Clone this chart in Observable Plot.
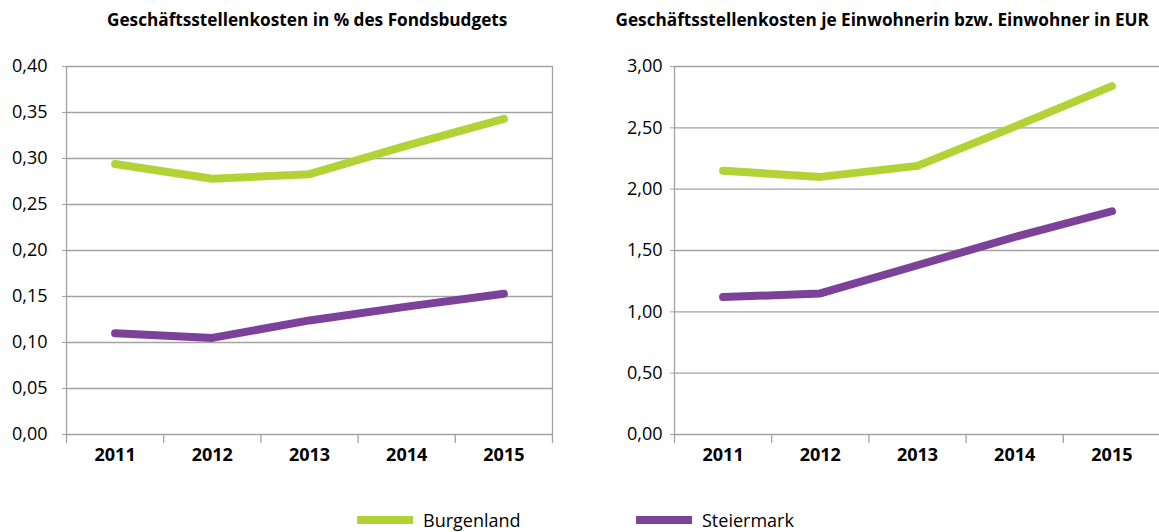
<!DOCTYPE html>
<html>
<head>
<meta charset="utf-8">
<script src="https://cdn.jsdelivr.net/npm/d3@7"></script>
<script src="https://cdn.jsdelivr.net/npm/@observablehq/plot@0.6"></script>
<style>
  html, body { margin: 0; padding: 0; background: #fff; overflow: hidden; }
  #root { position: relative; width: 1159px; height: 532px; font-family: "Open Sans", sans-serif; }
  .title { position: absolute; top: 8px; font-weight: bold; font-size: 17.2px; line-height: 24px; color: #000; white-space: nowrap; text-align: center; }
  .chart { position: absolute; top: 46px; }
  .legend { position: absolute; top: 505px; height: 30px; font-size: 18px; color: #000; }
  .sw { position: absolute; width: 56px; height: 8px; top: 11px; }
  .lt { position: absolute; top: 0; line-height: 30px; white-space: nowrap; }
</style>
</head>
<body>
<div id="root"></div>
<script>
const years = [2011, 2012, 2013, 2014, 2015];
const seriesNames = ["Burgenland", "Steiermark"];
const seriesColors = ["#b2d235", "#7c4199"];

const leftTitle = "Geschäftsstellenkosten in % des Fondsbudgets";
const leftBurgenland = [0.294, 0.278, 0.283, 0.314, 0.343];
const leftSteiermark = [0.110, 0.105, 0.124, 0.139, 0.153];
const leftTicks = [0, 0.05, 0.10, 0.15, 0.20, 0.25, 0.30, 0.35, 0.40];

const rightTitle = "Geschäftsstellenkosten je Einwohnerin bzw. Einwohner in EUR";
const rightBurgenland = [2.15, 2.10, 2.19, 2.51, 2.84];
const rightSteiermark = [1.12, 1.15, 1.38, 1.61, 1.82];
const rightTicks = [0, 0.5, 1.0, 1.5, 2.0, 2.5, 3.0];

const root = document.getElementById("root");
const fmt = d => d3.format(".2f")(d).replace(".", ",");
const boundaries = [...years.map(y => y - 0.5), years[years.length - 1] + 0.5];
const gridColor = "#a3a3a3";

function makeChart(b, s, ticks, opts) {
  const data = [];
  years.forEach((y, i) => {
    data.push({year: y, value: b[i], series: seriesNames[0]});
    data.push({year: y, value: s[i], series: seriesNames[1]});
  });
  return Plot.plot({
    width: opts.width,
    height: 428,
    marginLeft: opts.marginLeft,
    marginRight: opts.marginRight,
    marginTop: 20,
    marginBottom: 40,
    style: {fontFamily: "'Open Sans', sans-serif", background: "transparent", overflow: "visible"},
    x: {type: "linear", domain: [boundaries[0], boundaries[boundaries.length - 1]]},
    y: {domain: [0, ticks[ticks.length - 1]]},
    color: {domain: seriesNames, range: seriesColors},
    marks: [
      Plot.ruleY(ticks, {stroke: gridColor, strokeWidth: 1.3}),
      Plot.ruleX([boundaries[0], boundaries[boundaries.length - 1]], {stroke: gridColor, strokeWidth: 1.3}),
      Plot.axisY(ticks, {tickSize: 4, tickPadding: opts.yPad, tickFormat: fmt, fontSize: 18, fill: "#000", stroke: gridColor, label: null}),
      Plot.axisX(boundaries, {tickSize: 9, tickFormat: () => "", stroke: gridColor, strokeWidth: 1.3, label: null}),
      Plot.axisX(years, {tickSize: 0, tickPadding: 14, tickFormat: d => String(d), fontSize: 18, fontWeight: "bold", fill: "#000", label: null}),
      Plot.line(data, {x: "year", y: "value", z: "series", stroke: "series", strokeWidth: 8, strokeLinecap: "round", strokeLinejoin: "round"})
    ]
  });
}

const left = makeChart(leftBurgenland, leftSteiermark, leftTicks, {width: 560, marginLeft: 66, marginRight: 8, yPad: 15});
left.classList.add("chart");
left.style.left = "0px";
root.appendChild(left);

const right = makeChart(rightBurgenland, rightSteiermark, rightTicks, {width: 560, marginLeft: 74, marginRight: 0, yPad: 8});
right.classList.add("chart");
right.style.left = "600px";
root.appendChild(right);

function addTitle(text, center) {
  const t = document.createElement("div");
  t.className = "title";
  t.textContent = text;
  root.appendChild(t);
  t.style.left = (center - t.offsetWidth / 2) + "px";
}
addTitle(leftTitle, 307);
addTitle(rightTitle, 882);

const legendPos = [357, 636];
seriesNames.forEach((name, i) => {
  const lg = document.createElement("div");
  lg.className = "legend";
  lg.style.left = legendPos[i] + "px";
  const sw = document.createElement("div");
  sw.className = "sw";
  sw.style.left = "0px";
  sw.style.background = seriesColors[i];
  const lt = document.createElement("div");
  lt.className = "lt";
  lt.style.left = "66px";
  lt.textContent = name;
  lg.appendChild(sw);
  lg.appendChild(lt);
  root.appendChild(lg);
});
</script>
</body>
</html>
